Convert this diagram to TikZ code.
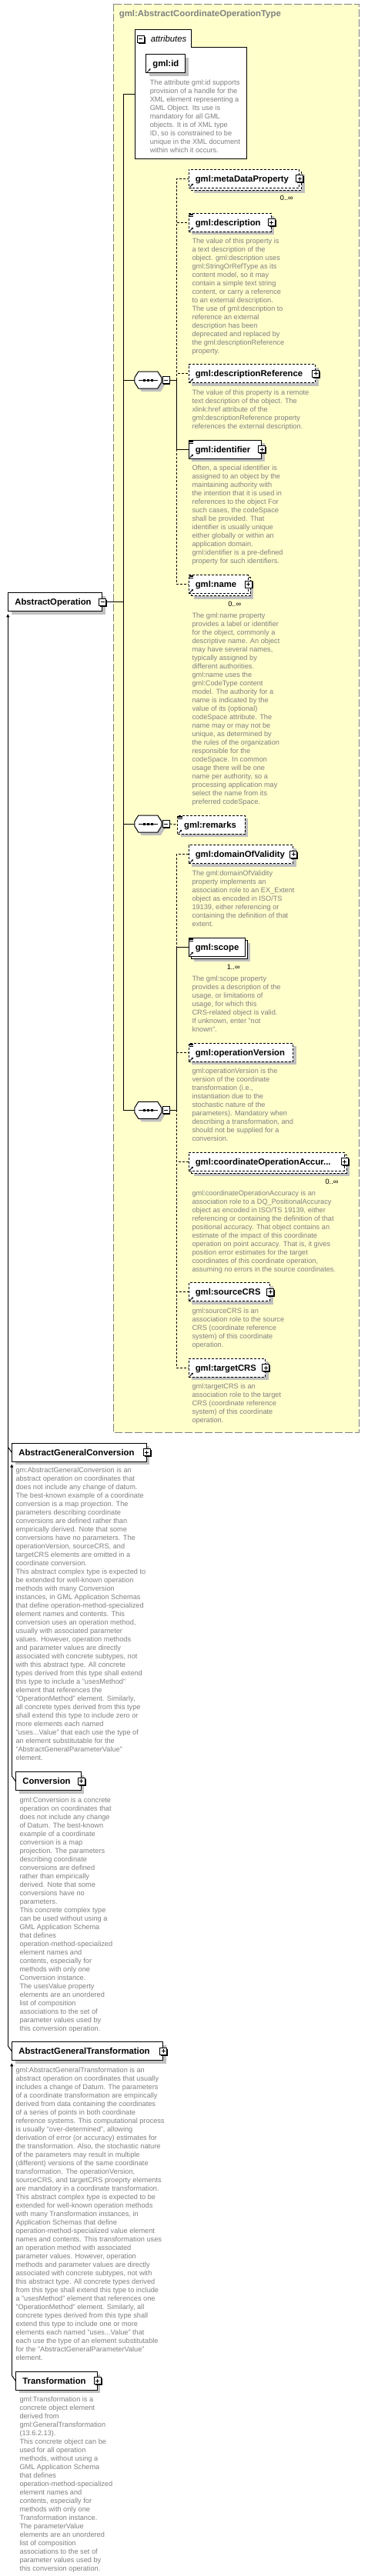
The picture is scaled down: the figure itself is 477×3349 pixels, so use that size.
\documentclass[tikz,border=0pt]{standalone}
\usepackage{fontspec}
\setmainfont{Liberation Sans}
\usetikzlibrary{shadows,arrows.meta}
\hyphenpenalty=10000
\exhyphenpenalty=10000

\definecolor{typebg}{RGB}{255,255,204}
\definecolor{docgray}{RGB}{128,128,128}
\definecolor{shadowgray}{RGB}{192,192,192}

\tikzset{
  typebox/.style={draw=docgray, fill=typebg, dash pattern=on 10pt off 3pt},
  title/.style={anchor=west, inner sep=0pt, text=docgray, font=\fontsize{11.4}{13}\selectfont\bfseries},
  elem/.style={draw, fill=white, anchor=north west, minimum height=24pt, inner xsep=8.6pt, inner ysep=0pt,
    text height=8.2pt, text depth=0pt, align=left, font=\fontsize{11.3}{13}\selectfont\bfseries},
  opt/.style={dash pattern=on 3pt off 2pt},
  shade/.style={general shadow={fill=shadowgray, draw=none, shadow xshift=4pt, shadow yshift=-4pt}},
  multi/.style={general shadow={fill=shadowgray, draw=none, shadow xshift=7pt, shadow yshift=-7pt},
    general shadow={fill=white, draw=black, shadow xshift=3pt, shadow yshift=-3pt}},
  doc/.style={anchor=north west, inner sep=0pt, align=left, text=docgray, font=\fontsize{9.2}{11}\selectfont},
  mult/.style={inner sep=0pt, font=\fontsize{9.2}{11}\selectfont},
  expander/.style={draw, fill=white, minimum size=9pt, inner sep=0pt, line width=0.9pt,
    general shadow={fill=black, draw=none, shadow xshift=1.3pt, shadow yshift=-1.3pt}},
  plus/.style={expander, path picture={
    \draw ([xshift=2pt]path picture bounding box.west) -- ([xshift=-2pt]path picture bounding box.east)
          ([yshift=-2pt]path picture bounding box.north) -- ([yshift=2pt]path picture bounding box.south);}},
  minus/.style={expander, path picture={
    \draw ([xshift=2pt]path picture bounding box.west) -- ([xshift=-2pt]path picture bounding box.east);}},
  seq/.style={inner sep=0pt, minimum width=34pt, minimum height=21pt},
  derive/.style={-{Triangle[length=4pt,width=4pt]}},
}

% octagon of a sequence compositor, with its shadow
\newcommand\seqshape[1]{%
  \fill[shadowgray, transform canvas={shift={(4pt,-4pt)}}]
    ([yshift=3pt]#1.west) -- ([xshift=5pt]#1.north west) -- ([xshift=-5pt]#1.north east)
    -- ([yshift=3pt]#1.east) -- ([yshift=-3pt]#1.east) -- ([xshift=-5pt]#1.south east)
    -- ([xshift=5pt]#1.south west) -- ([yshift=-3pt]#1.west) -- cycle;
  \draw[fill=white]
    ([yshift=3pt]#1.west) -- ([xshift=5pt]#1.north west) -- ([xshift=-5pt]#1.north east)
    -- ([yshift=3pt]#1.east) -- ([yshift=-3pt]#1.east) -- ([xshift=-5pt]#1.south east)
    -- ([xshift=5pt]#1.south west) -- ([yshift=-3pt]#1.west) -- cycle;
  \draw[line width=0.8pt] ([xshift=5pt]#1.west) -- ([xshift=-5pt]#1.east);
  \foreach \dx in {-5,0,5}
    \fill ([xshift=\dx pt]#1.center) +(-1.5,-1.5) rectangle +(1.5,1.5);}
\newcommand\refmark[1]{\draw[line width=0.8pt, -{Stealth[length=2.6pt,width=2.8pt]}]
  ([xshift=1.8pt,yshift=1.5pt]#1.south west) -- ++(4.5,-4.5);}
\newcommand\docmark[1]{\foreach \dy in {1.3,2.7,4.1}
  \draw[line width=0.6pt] ([xshift=1pt,yshift=-\dy pt]#1.north west) -- ++(5.5,0);}

\begin{document}
\begin{tikzpicture}[x=1pt, y=-1pt, line width=1pt]
  \useasboundingbox (0,0) rectangle (477,3349);

  % complex type
  \draw[typebox] (147.3,5.3) rectangle (466.7,1862.3);
  \node[title] (typeName) at (154.3,19) {gml:AbstractCoordinateOperationType};

  % attributes
  \draw[fill=white] (175.3,38.3) -- (248.3,38.3) -- (248.3,61.3) -- (320.7,61.3)
    -- (320.7,206.3) -- (175.3,206.3) -- cycle;
  \node[minus] (attrMinus) at (182.7,50.7) {};
  \node[anchor=west, inner sep=0pt, font=\fontsize{11.3}{13}\selectfont\itshape] (attrLabel) at (195.3,50.7) {attributes};
  \node[elem, shade, text width=33.8pt] (gmlId) at (189.3,70.3) {gml:id};
  \node[doc] (gmlIdDoc) at (194.3,103.2) {The attribute gml:id supports\\provision of a handle for the\\XML element representing a\\GML Object. Its use is\\mandatory for all GML\\objects. It is of XML type\\ID, so is constrained to be\\unique in the XML document\\within which it occurs.};

  % first sequence
  \node[elem, opt, multi, text width=126.4pt] (meta) at (244.7,219.7) {gml:metaDataProperty};
  \node[plus] (metaPlus) at (meta.east) {};
  \node[mult] (metaMult) at ([xshift=-17pt,yshift=-13pt]meta.south east) {0..∞};

  \node[elem, opt, shade, text width=89.8pt] (desc) at (244.7,276.7) {gml:description};
  \node[plus] (descPlus) at (desc.east) {};
  \node[doc] (descDoc) at (249,309.5) {The value of this property is\\a text description of the\\object. gml:description uses\\gml:StringOrRefType as its\\content model, so it may\\contain a simple text string\\content, or carry a reference\\to an external description.\\The use of gml:description to\\reference an external\\description has been\\deprecated and replaced by\\the gml:descriptionReference\\property.};

  \node[elem, opt, shade, text width=147.1pt] (descRef) at (244.7,473.3) {gml:descriptionReference};
  \node[plus] (descRefPlus) at (descRef.east) {};
  \node[doc] (descRefDoc) at (249,506.5) {The value of this property is a remote\\text description of the object. The\\xlink:href attribute of the\\gml:descriptionReference property\\references the external description.};

  \node[elem, shade, text width=77.4pt] (ident) at (244.7,571.7) {gml:identifier};
  \node[plus] (identPlus) at (ident.east) {};
  \node[doc] (identDoc) at (249,604.2) {Often, a special identifier is\\assigned to an object by the\\maintaining authority with\\the intention that it is used in\\references to the object For\\such cases, the codeSpace\\shall be provided. That\\identifier is usually unique\\either globally or within an\\application domain.\\gml:identifier is a pre-defined\\property for such identifiers.};

  \node[elem, opt, multi, text width=59.8pt] (name) at (244.7,747) {gml:name};
  \node[plus] (namePlus) at (name.east) {};
  \node[mult] (nameMult) at ([xshift=-18pt,yshift=-13.3pt]name.south east) {0..∞};
  \node[doc] (nameDoc) at (249,796.2) {The gml:name property\\provides a label or identifier\\for the object, commonly a\\descriptive name. An object\\may have several names,\\typically assigned by\\different authorities.\\gml:name uses the\\gml:CodeType content\\model.  The authority for a\\name is indicated by the\\value of its (optional)\\codeSpace attribute.  The\\name may or may not be\\unique, as determined by\\the rules of the organization\\responsible for the\\codeSpace.  In common\\usage there will be one\\name per authority, so a\\processing application may\\select the name from its\\preferred codeSpace.};

  % element of the type
  \node[elem, shade, text width=104.5pt] (aop) at (10.3,770.3) {AbstractOperation};
  \node[minus] (aopMinus) at (aop.east) {};

  % second sequence
  \node[elem, opt, shade, text width=70.5pt] (remarks) at (230,1059.7) {gml:remarks};

  % third sequence
  \node[elem, opt, shade, text width=118.4pt] (domain) at (244.7,1098.3) {gml:domainOfValidity};
  \node[plus] (domainPlus) at (domain.east) {};
  \node[doc] (domainDoc) at (249,1131.2) {The gml:domainOfValidity\\property implements an\\association role to an EX\_Extent\\object as encoded in ISO/TS\\19139, either referencing or\\containing the definition of that\\extent.};

  \node[elem, multi, text width=55.8pt] (scope) at (244.7,1218.7) {gml:scope};
  \node[mult] (scopeMult) at ([xshift=-15.5pt,yshift=-14pt]scope.south east) {1..∞};
  \node[doc] (scopeDoc) at (249,1268.5) {The gml:scope property\\provides a description of the\\usage, or limitations of\\usage, for which this\\CRS-related object is valid.\\If unknown, enter "not\\known".};

  \node[elem, opt, shade, text width=118.1pt] (opVer) at (244.7,1355.7) {gml:operationVersion};
  \node[doc] (opVerDoc) at (249,1388.2) {gml:operationVersion is the\\version of the coordinate\\transformation (i.e.,\\instantiation due to the\\stochastic nature of the\\parameters). Mandatory when\\describing a transformation, and\\should not be supplied for a\\conversion.};

  \node[elem, opt, multi, text width=184.8pt] (acc) at (244.7,1497.7) {gml:coordinateOperationAccur...};
  \node[plus] (accPlus) at (acc.east) {};
  \node[mult] (accMult) at ([xshift=-16.7pt,yshift=-13.3pt]acc.south east) {0..∞};
  \node[doc] (accDoc) at (249,1547.5) {gml:coordinateOperationAccuracy is an\\association role to a DQ\_PositionalAccuracy\\object as encoded in ISO/TS 19139, either\\referencing or containing the definition of that\\positional accuracy. That object contains an\\estimate of the impact of this coordinate\\operation on point accuracy. That is, it gives\\position error estimates for the target\\coordinates of this coordinate operation,\\assuming no errors in the source coordinates.};

  \node[elem, opt, shade, text width=88.1pt] (src) at (244.7,1667.3) {gml:sourceCRS};
  \node[plus] (srcPlus) at (src.east) {};
  \node[doc] (srcDoc) at (249,1700.5) {gml:sourceCRS is an\\association role to the source\\CRS (coordinate reference\\system) of this coordinate\\operation.};

  \node[elem, opt, shade, text width=82.1pt] (tgt) at (244.7,1765.7) {gml:targetCRS};
  \node[plus] (tgtPlus) at (tgt.east) {};
  \node[doc] (tgtDoc) at (249,1798.5) {gml:targetCRS is an\\association role to the target\\CRS (coordinate reference\\system) of this coordinate\\operation.};

  % compositors
  \node[seq] (seqA) at (192.3,494) {};
  \seqshape{seqA}
  \node[minus] (seqAMinus) at ([xshift=5.7pt]seqA.east) {};
  \node[seq] (seqB) at (192.3,1071) {};
  \seqshape{seqB}
  \node[minus] (seqBMinus) at ([xshift=5.7pt]seqB.east) {};
  \node[seq] (seqC) at (192.3,1443.3) {};
  \seqshape{seqC}
  \node[minus] (seqCMinus) at ([xshift=5.7pt]seqC.east) {};

  % trunk
  \coordinate (attrIn) at (175.3,122.3);
  \coordinate (trunkTop) at (160.7,122.3);
  \coordinate (forkA) at (229.3,494);
  \coordinate (forkC) at (229.3,1443.3);
  \draw (attrIn) -- (trunkTop) |- (seqC.west);
  \draw (seqA.west) -- (seqA.west -| trunkTop);
  \draw (seqB.west) -- (seqB.west -| trunkTop);
  \draw (aopMinus.east) -- (aopMinus.east -| trunkTop);

  % children
  \draw (seqAMinus.east) -- (forkA);
  \draw[opt] (forkA) |- (meta.west);
  \draw[opt] (forkA) |- (desc.west);
  \draw[opt] (forkA) |- (descRef.west);
  \draw[opt] (forkA) |- (name.west);
  \draw (forkA) |- (ident.west);
  \draw[opt] (seqBMinus.east) -- (remarks.west);
  \draw (seqCMinus.east) -- (forkC);
  \draw[opt] (forkC) |- (domain.west);
  \draw[opt] (forkC) |- (opVer.west);
  \draw[opt] (forkC) |- (acc.west);
  \draw[opt] (forkC) |- (src.west);
  \draw[opt] (forkC) |- (tgt.west);
  \draw (forkC) |- (scope.west);

  \foreach \n in {gmlId,meta,desc,descRef,ident,name,remarks,domain,scope,opVer,acc,src,tgt}
    {\refmark{\n}}
  \foreach \n in {desc,ident,name,remarks,scope,opVer}
    {\docmark{\n}}

  % derived types
  \node[elem, shade, text width=157.2pt] (agc) at (15.3,1875.7) {AbstractGeneralConversion};
  \node[plus] (agcPlus) at (agc.east) {};
  \node[doc] (agcDoc) at (20,1907.8) {gm:AbstractGeneralConversion is an\\abstract operation on coordinates that\\does not include any change of datum.\\The best-known example of a coordinate\\conversion is a map projection. The\\parameters describing coordinate\\conversions are defined rather than\\empirically derived. Note that some\\conversions have no parameters. The\\operationVersion, sourceCRS, and\\targetCRS elements are omitted in a\\coordinate conversion.\\This abstract complex type is expected to\\be extended for well-known operation\\methods with many Conversion\\instances, in GML Application Schemas\\that define operation-method-specialized\\element names and contents. This\\conversion uses an operation method,\\usually with associated parameter\\values. However, operation methods\\and parameter values are directly\\associated with concrete subtypes, not\\with this abstract type. All concrete\\types derived from this type shall extend\\this type to include a "usesMethod"\\element that references the\\"OperationMethod" element. Similarly,\\all concrete types derived from this type\\shall extend this type to include zero or\\more elements each named\\"uses...Value" that each use the type of\\an element substitutable for the\\"AbstractGeneralParameterValue"\\element.};

  \node[elem, shade, text width=67.2pt] (conv) at (20.3,2303.3) {Conversion};
  \node[plus] (convPlus) at (conv.east) {};
  \node[doc] (convDoc) at (25,2336.2) {gml:Conversion is a concrete\\operation on coordinates that\\does not include any change\\of Datum. The best-known\\example of a coordinate\\conversion is a map\\projection. The parameters\\describing coordinate\\conversions are defined\\rather than empirically\\derived. Note that some\\conversions have no\\parameters.\\This concrete complex type\\can be used without using a\\GML Application Schema\\that defines\\operation-method-specialized\\element names and\\contents, especially for\\methods with only one\\Conversion instance.\\The usesValue property\\elements are an unordered\\list of composition\\associations to the set of\\parameter values used by\\this conversion operation.};

  \node[elem, shade, text width=178.5pt] (agt) at (15.3,2654.3) {AbstractGeneralTransformation};
  \node[plus] (agtPlus) at (agt.east) {};
  \node[doc] (agtDoc) at (20,2687.2) {gml:AbstractGeneralTransformation is an\\abstract operation on coordinates that usually\\includes a change of Datum. The parameters\\of a coordinate transformation are empirically\\derived from data containing the coordinates\\of a series of points in both coordinate\\reference systems. This computational process\\is usually "over-determined", allowing\\derivation of error (or accuracy) estimates for\\the transformation. Also, the stochastic nature\\of the parameters may result in multiple\\(different) versions of the same coordinate\\transformation. The operationVersion,\\sourceCRS, and targetCRS proeprty elements\\are mandatory in a coordinate transformation.\\This abstract complex type is expected to be\\extended for well-known operation methods\\with many Transformation instances, in\\Application Schemas that define\\operation-method-specialized value element\\names and contents. This transformation uses\\an operation method with associated\\parameter values. However, operation\\methods and parameter values are directly\\associated with concrete subtypes, not with\\this abstract type. All concrete types derived\\from this type shall extend this type to include\\a "usesMethod" element that references one\\"OperationMethod" element. Similarly, all\\concrete types derived from this type shall\\extend this type to include one or more\\elements each named "uses...Value" that\\each use the type of an element substitutable\\for the "AbstractGeneralParameterValue"\\element.};

  \node[elem, shade, text width=88.2pt] (trans) at (20.3,3082.7) {Transformation};
  \node[plus] (transPlus) at (trans.east) {};
  \node[doc] (transDoc) at (25,3115.5) {gml:Transformation is a\\concrete object element\\derived from\\gml:GeneralTransformation\\(13.6.2.13).\\This concrete object can be\\used for all operation\\methods, without using a\\GML Application Schema\\that defines\\operation-method-specialized\\element names and\\contents, especially for\\methods with only one\\Transformation instance.\\The parameterValue\\elements are an unordered\\list of composition\\associations to the set of\\parameter values used by\\this conversion operation.};

  % derivation lines
  \draw[derive] ([xshift=-5pt,yshift=7pt]agt.west) -- ([yshift=-3pt]aop.south west);
  \draw (agc.west) -- ++(-5,-7);
  \draw (agt.west) -- ++(-5,-7);
  \draw[derive] ([xshift=-5pt,yshift=7pt]conv.west) -- ([yshift=-3pt]agc.south west);
  \draw (conv.west) -- ++(-5,-7);
  \draw[derive] ([xshift=-5pt,yshift=7pt]trans.west) -- ([yshift=-3pt]agt.south west);
  \draw (trans.west) -- ++(-5,-7);
\end{tikzpicture}
\end{document}
